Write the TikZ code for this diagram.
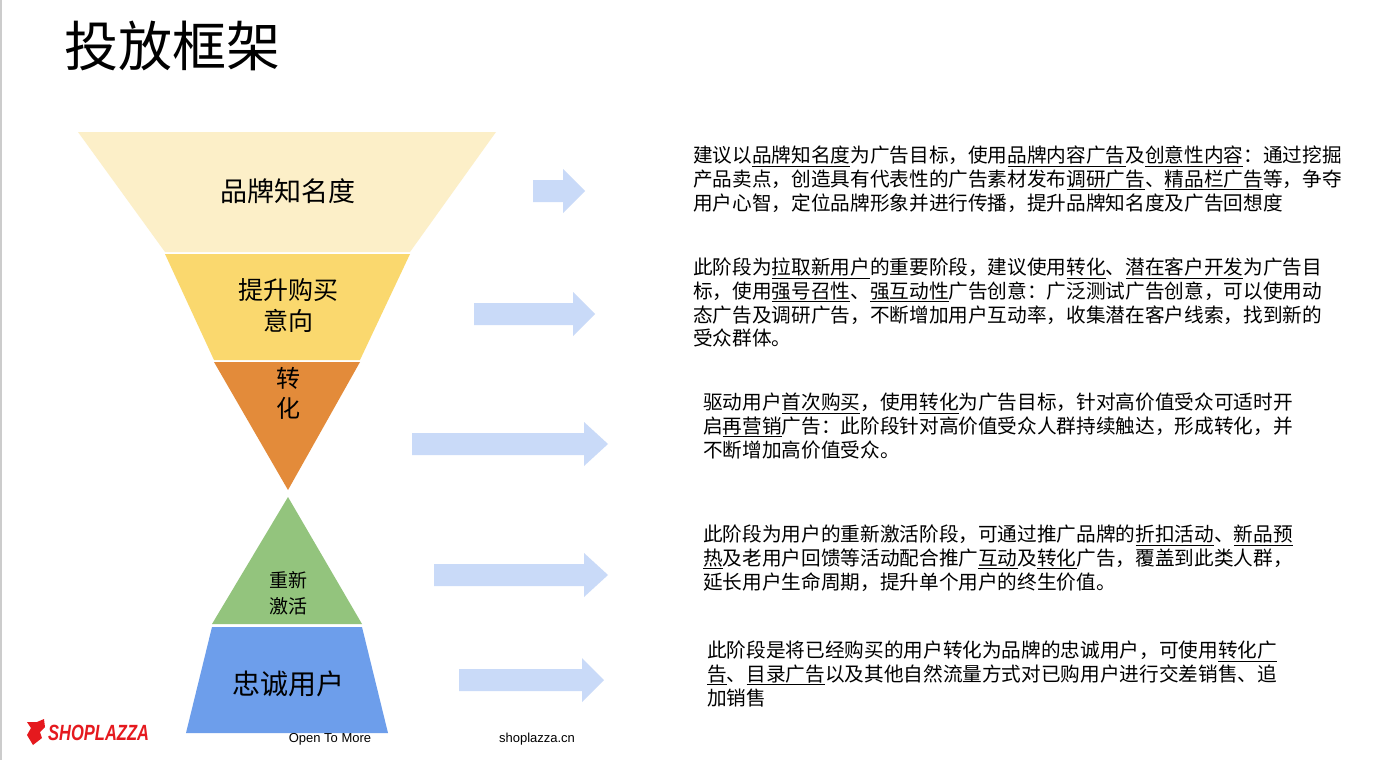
\documentclass[tikz,border=0pt]{standalone}
\usepackage{fontspec}
\setmainfont{Liberation Sans}
\newfontfamily\cjk{Noto Sans CJK SC}
\usetikzlibrary{shapes.arrows}
\definecolor{cA}{HTML}{FCEFC8}
\definecolor{cB}{HTML}{FAD86E}
\definecolor{cC}{HTML}{E38B3A}
\definecolor{cD}{HTML}{93C47D}
\definecolor{cE}{HTML}{6D9EEB}
\definecolor{arr}{HTML}{C9DAF8}
\definecolor{logored}{HTML}{E5191E}
\tikzset{
 para/.style={anchor=north west,align=left,inner sep=0pt,font=\cjk\fontsize{19.65}{23.6}\selectfont},
 flabel/.style={align=center,inner sep=0pt,font=\cjk\fontsize{27}{31}\selectfont},
 barrow/.style={fill=arr,draw=none}
}
\newcommand{\blkarrow}[4]{% x1,x2,y,head length
 \fill[arr] (#1,#3-11) -- (#2-#4,#3-11) -- (#2-#4,#3-22) -- (#2,#3) -- (#2-#4,#3+22) -- (#2-#4,#3+11) -- (#1,#3+11) -- cycle;}
\begin{document}
\begin{tikzpicture}[x=1pt,y=-1pt]
\useasboundingbox (0,0) rectangle (1380,760);
\fill[white] (0,0) rectangle (1380,760);
\draw[gray!40,line width=1.5pt] (0.75,0) -- (0.75,760);
\node[anchor=west,inner sep=0pt,font=\cjk\fontsize{54}{60}\selectfont] (title) at (64,46) {投放框架};
% funnel
\fill[cA] (78,132) -- (496,132) -- (410,252) -- (165,252) -- cycle;
\fill[cB] (165,254) -- (410,254) -- (360,360) -- (214,360) -- cycle;
\fill[cC] (214,362) -- (360,362) -- (288,490) -- cycle;
\fill[cD] (288,497) -- (362,624) -- (212,624) -- cycle;
\fill[cE] (212,627) -- (362,627) -- (388,733) -- (186,733) -- cycle;
\node[flabel] (l1) at (288,191) {品牌知名度};
\node[flabel,font=\cjk\fontsize{25}{31}\selectfont] (l2) at (288,305) {提升购买\\意向};
\node[flabel,font=\cjk\fontsize{24}{30}\selectfont] (l3) at (288,393) {转\\化};
\node[flabel,font=\cjk\fontsize{19}{26}\selectfont] (l4) at (288,593) {重新\\激活};
\node[flabel,font=\cjk\fontsize{28}{31}\selectfont] (l5) at (288,684) {忠诚用户};
% arrows
\blkarrow{533}{585}{191}{22}
\blkarrow{474}{595}{314}{22}
\blkarrow{412}{608}{444}{24}
\blkarrow{434}{608}{575}{24}
\blkarrow{459}{604}{680}{22}
% texts
\node[para] (t1) at (693,146) {建议以\underline{品牌知名度}为广告目标，使用\underline{品牌内容广告}及\underline{创意性内容}：通过挖掘\\产品卖点，创造具有代表性的广告素材发布\underline{调研广告}、\underline{精品栏广告}等，争夺\\用户心智，定位品牌形象并进行传播，提升品牌知名度及广告回想度};
\node[para] (t2) at (693,258) {此阶段为\underline{拉取新用户}的重要阶段，建议使用\underline{转化}、\underline{潜在客户开发}为广告目\\标，使用\underline{强号召性}、\underline{强互动性}广告创意：广泛测试广告创意，可以使用动\\态广告及调研广告，不断增加用户互动率，收集潜在客户线索，找到新的\\受众群体。};
\node[para] (t3) at (703,393) {驱动用户\underline{首次购买}，使用\underline{转化}为广告目标，针对高价值受众可适时开\\启\underline{再营销}广告：此阶段针对高价值受众人群持续触达，形成转化，并\\不断增加高价值受众。};
\node[para] (t4) at (703,525) {此阶段为用户的重新激活阶段，可通过推广品牌的\underline{折扣活动}、\underline{新品预}\\\underline{热}及老用户回馈等活动配合推广\underline{互动}及\underline{转化}广告，覆盖到此类人群，\\延长用户生命周期，提升单个用户的终生价值。};
\node[para] (t5) at (707,641) {此阶段是将已经购买的用户转化为品牌的忠诚用户，可使用\underline{转化广}\\\underline{告}、\underline{目录广告}以及其他自然流量方式对已购用户进行交差销售、追\\加销售};
% footer
\fill[logored] (27,722) -- (31,728) -- (27,735) -- (33,745) -- (42,738) -- (40,732) -- (45,727) -- (44,719) -- (37,722) -- cycle;
\node[anchor=west,inner sep=0pt,text=logored,font=\bfseries\itshape\fontsize{22}{24}\selectfont] (logo) at (48,733) {\scalebox{0.75}[1]{SHOPLAZZA}};
\node[inner sep=0pt,font=\fontsize{13}{15}\selectfont] (f1) at (330,739) {Open To More};
\node[inner sep=0pt,font=\fontsize{13}{15}\selectfont] (f2) at (537,739) {shoplazza.cn};
\end{tikzpicture}
\end{document}
